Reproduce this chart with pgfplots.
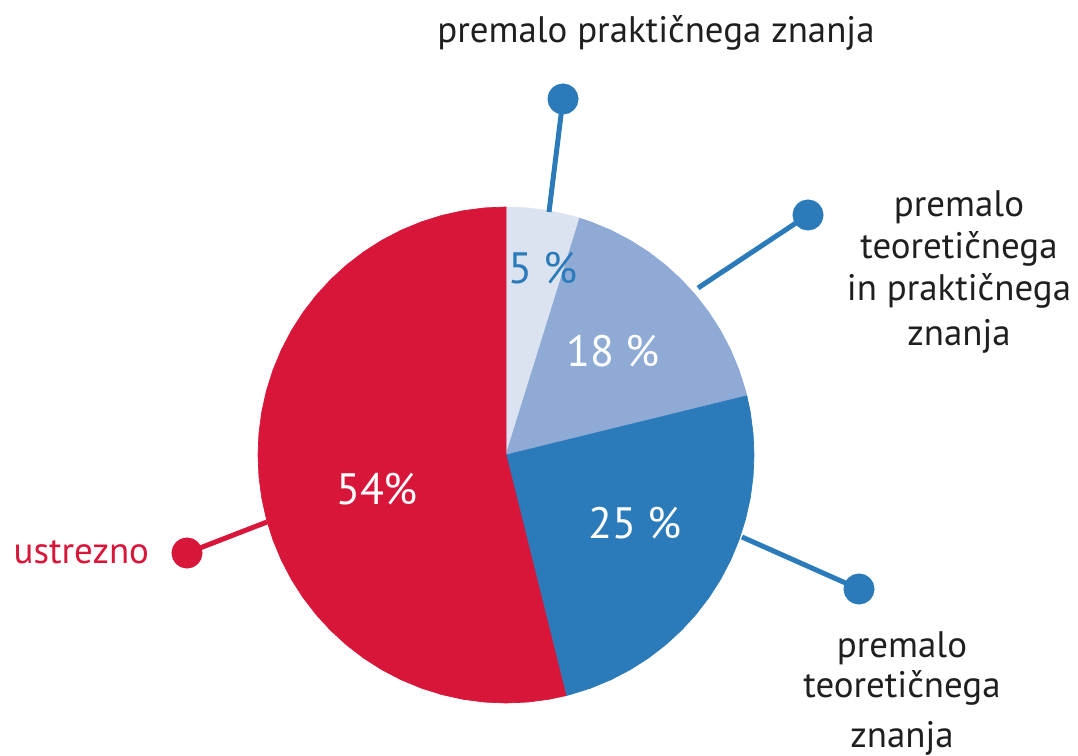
\documentclass[border=0pt]{standalone}
\usepackage{pgfplots}
\pgfplotsset{compat=1.18}
\usepackage{fontspec}
\setmainfont{PT Sans}
\definecolor{cRed}{HTML}{D7163A}
\definecolor{cDark}{HTML}{2B7BBA}
\definecolor{cMid}{HTML}{8EAAD5}
\definecolor{cLight}{HTML}{DCE3F0}
\begin{document}
\begin{tikzpicture}
\begin{axis}[
  hide axis, scale only axis,
  width=10.78cm, height=7.55cm,
  xmin=-506, xmax=572, ymin=-300, ymax=455,
  clip=false,
]
% slices given as (angle, radius); 5 %, 18 %, 25 %, 54 % clockwise from top
\addplot[fill=cLight, draw=cLight, line width=0.2pt, data cs=polar] coordinates {
  (0,0) (90,248) (85,248) (80,248) (75,248) (72.7,248)} -- cycle;
\addplot[fill=cMid, draw=cMid, line width=0.2pt, data cs=polar] coordinates {
  (0,0) (72.7,248) (70,248) (65,248) (60,248) (55,248) (50,248) (45,248) (40,248)
  (35,248) (30,248) (25,248) (20,248) (15,248) (13.8,248)} -- cycle;
\addplot[fill=cDark, draw=cDark, line width=0.2pt, data cs=polar] coordinates {
  (0,0) (13.8,248) (10,248) (5,248) (0,248) (-5,248) (-10,248) (-15,248) (-20,248)
  (-25,248) (-30,248) (-35,248) (-40,248) (-45,248) (-50,248) (-55,248) (-60,248)
  (-65,248) (-70,248) (-75,248) (-76,248)} -- cycle;
\addplot[fill=cRed, draw=cRed, line width=0.2pt, data cs=polar] coordinates {
  (0,0) (-76,248) (-80,248) (-85,248) (-90,248) (-95,248) (-100,248) (-105,248)
  (-110,248) (-115,248) (-120,248) (-125,248) (-130,248) (-135,248) (-140,248)
  (-145,248) (-150,248) (-155,248) (-160,248) (-165,248) (-170,248) (-175,248)
  (-180,248) (-185,248) (-190,248) (-195,248) (-200,248) (-205,248) (-210,248)
  (-215,248) (-220,248) (-225,248) (-230,248) (-235,248) (-240,248) (-245,248)
  (-250,248) (-255,248) (-260,248) (-265,248) (-270,248)} -- cycle;
% leader lines with dots
\addplot[cDark, line width=1.42pt, mark=*, mark size=3.7pt, mark indices={2}] coordinates {(43,243) (57,356)};
\addplot[cDark, line width=1.42pt, mark=*, mark size=3.7pt, mark indices={2}] coordinates {(192,167) (302,240)};
\addplot[cDark, line width=1.42pt, mark=*, mark size=3.7pt, mark indices={2}] coordinates {(236,-82) (353,-134)};
\addplot[cRed, line width=1.42pt, mark=*, mark size=3.7pt, mark indices={2}] coordinates {(-239,-67) (-319,-98)};
% percentages
\node[anchor=base, text=cDark, font=\fontsize{12.5}{14}\selectfont] at (axis cs:37,172) {5 \%};
\node[anchor=base, text=white, font=\fontsize{12.5}{14}\selectfont] at (axis cs:107,88) {18 \%};
\node[anchor=base, text=white, font=\fontsize{12.5}{14}\selectfont] at (axis cs:129,-83) {25 \%};
\node[anchor=base, text=white, font=\fontsize{12.5}{14}\selectfont] at (axis cs:-129,-50) {54\%};
% category labels
\tikzset{lab/.style={anchor=base, inner sep=0pt, text=black!88, font=\fontsize{10.5}{12}\selectfont}}
\node[lab] at (axis cs:150,412) {premalo praktičnega znanja};
\node[lab] at (axis cs:453,238) {premalo};
\node[lab] at (axis cs:453,196) {teoretičnega};
\node[lab] at (axis cs:453,154) {in praktičnega};
\node[lab] at (axis cs:453,109) {znanja};
\node[lab] at (axis cs:396,-202) {premalo};
\node[lab] at (axis cs:396,-242) {teoretičnega};
\node[lab] at (axis cs:396,-292) {znanja};
\node[lab, anchor=base west, text=cRed] at (axis cs:-493,-108) {ustrezno};
\end{axis}
\pgfresetboundingbox
\path[use as bounding box] (current axis.south west) rectangle (current axis.north east);
\end{tikzpicture}
\end{document}
